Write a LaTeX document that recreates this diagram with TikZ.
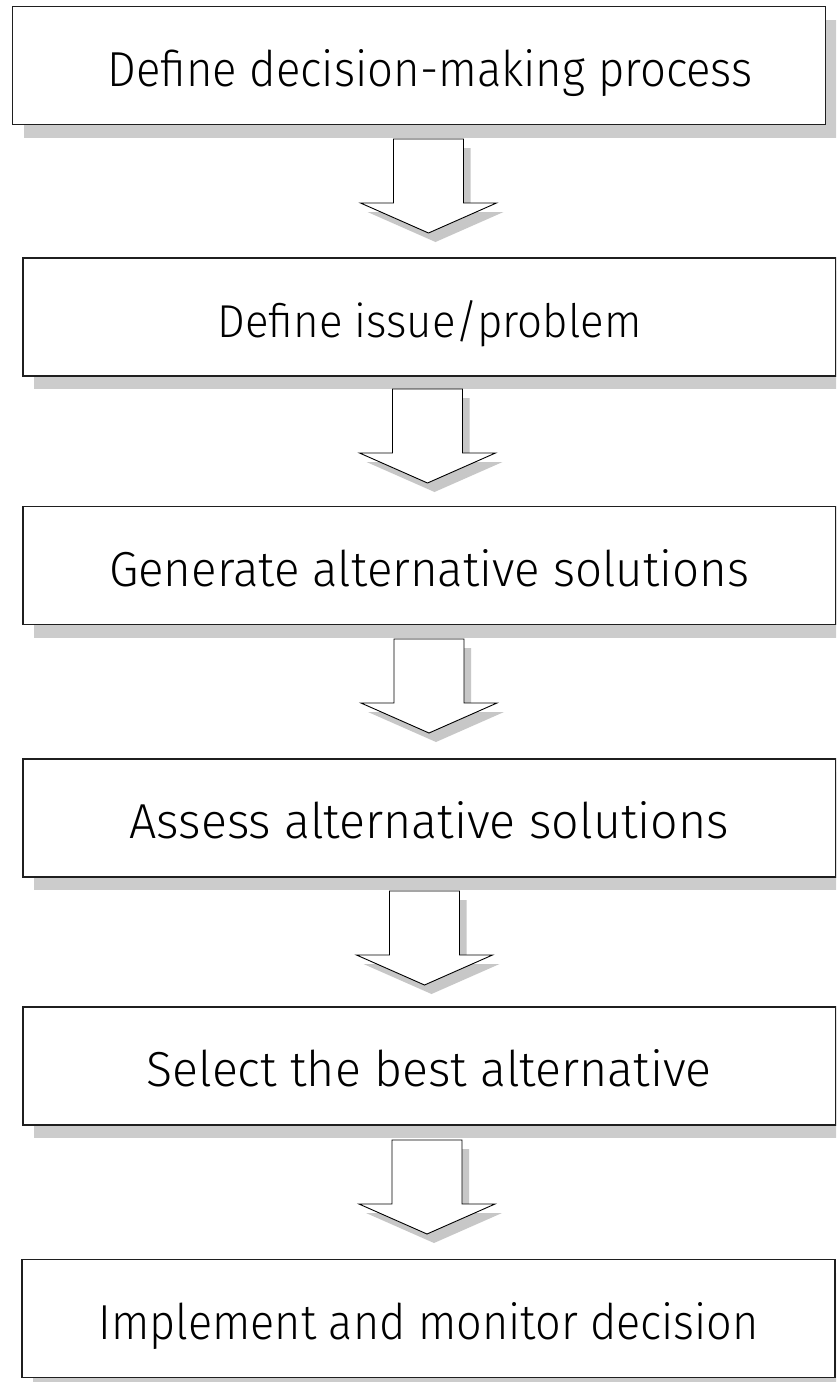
\documentclass[tikz,border=0pt]{standalone}
\usepackage{fontspec}
\setmainfont{Fira Sans Light}
\usetikzlibrary{shadows}
\newcommand\lbl[2]{\resizebox{#1pt}{37pt}{#2}}
\newcommand\barrow[3]{% name, center x, top y
  \fill[arrowshadow] (#2-35+7,#3+9) -- (#2+35+7,#3+9) -- (#2+35+7,#3+64+9) -- (#2+68+7,#3+64+9)
     -- (#2+7,#3+94+9) -- (#2-68+7,#3+64+9) -- (#2-35+7,#3+64+9) -- cycle;
  \draw[arrowline] (#2-35,#3) coordinate (#1) -- (#2+35,#3) -- (#2+35,#3+64) -- (#2+68,#3+64)
     -- (#2,#3+94) -- (#2-68,#3+64) -- (#2-35,#3+64) -- cycle;
}
\begin{document}
\begin{tikzpicture}[x=1pt,y=-1pt,
  box/.style={draw=black!88, line width=1.6pt, fill=white, rectangle, inner sep=0pt,
    minimum width=813pt, minimum height=118pt, text height=41pt, text depth=0pt,
    drop shadow={shadow xshift=11pt, shadow yshift=-13pt, fill=black!20, opacity=1}},
  arrowshadow/.style={fill=black!22},
  arrowline/.style={draw=black, line width=0.9pt, fill=white, line join=miter}]
\useasboundingbox (0,0) rectangle (836,1382);
\clip (0,0) rectangle (836,1382);
\fill[white] (0,0) rectangle (836,1382);

\node[box] (b1) at (419,65.5) {\hspace*{22pt}\lbl{645}{Define decision-making process}};
\node[box] (b2) at (429.5,317) {\lbl{424}{Define issue/problem}};
\node[box] (b3) at (429.2,565.5) {\lbl{640}{Generate alternative solutions}};
\node[box] (b4) at (429.2,818) {\lbl{599}{Assess alternative solutions}};
\node[box] (b5) at (429.2,1066) {\lbl{565}{Select the best alternative}};
\node[box] (b6) at (428.7,1318.5) {\lbl{660}{Implement and monitor decision}};

\barrow{a1}{428.5}{139}
\barrow{a2}{427.5}{389}
\barrow{a3}{429}{639}
\barrow{a4}{424.5}{891}
\barrow{a5}{427}{1140}
\end{tikzpicture}
\end{document}
